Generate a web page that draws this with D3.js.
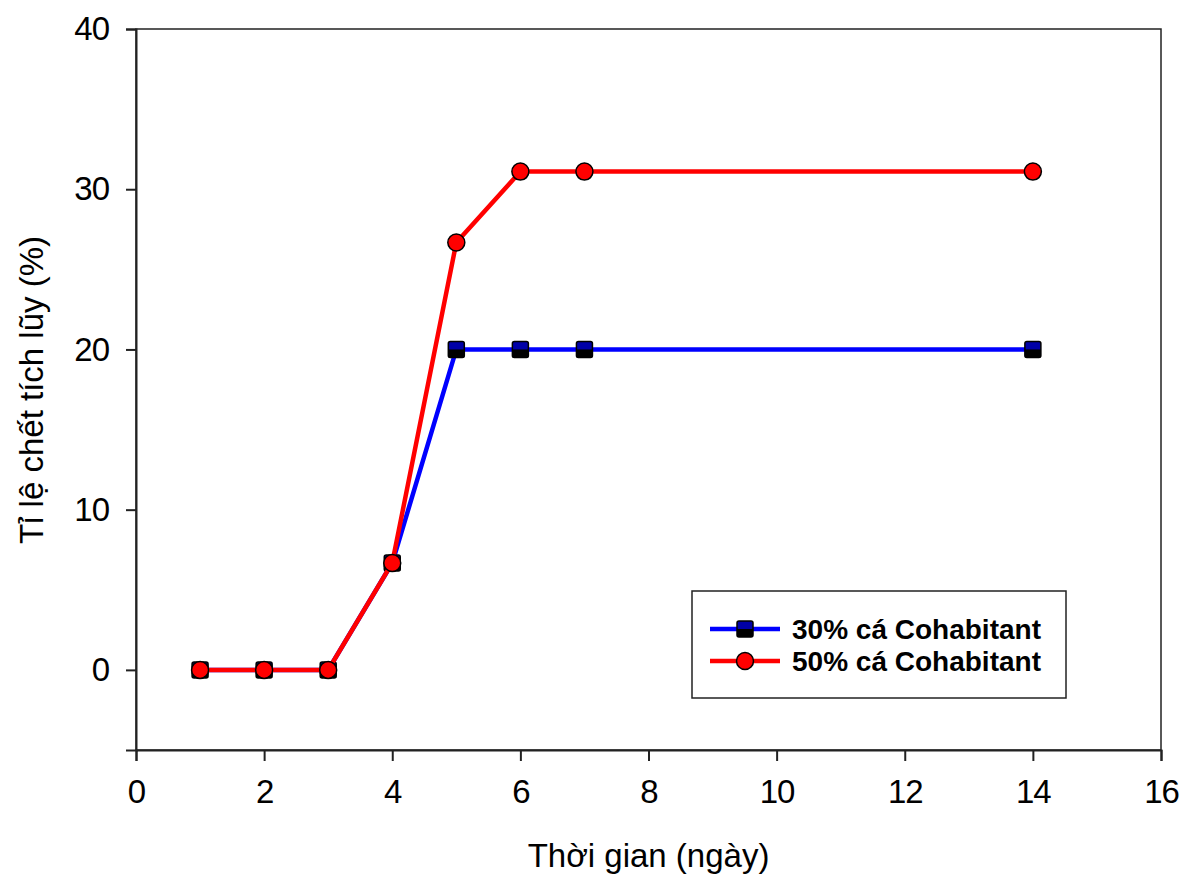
<!DOCTYPE html>
<html>
<head>
<meta charset="utf-8">
<script src="https://cdn.jsdelivr.net/npm/d3@7"></script>
<style>
  body { margin: 0; background: #fff; }
  text { font-family: "Liberation Sans", Arial, sans-serif; }
</style>
</head>
<body>
<svg id="chart" width="1192" height="879"></svg>
<script>
// Days of observation and cumulative mortality (%) per cohabitation group
const days = [1, 2, 3, 4, 5, 6, 7, 14];
const series30 = [0, 0, 0, 6.67, 20, 20, 20, 20];
const series50 = [0, 0, 0, 6.67, 26.67, 31.1, 31.1, 31.1];
const seriesNames = ["30% cá Cohabitant", "50% cá Cohabitant"];
const xTicks = [0, 2, 4, 6, 8, 10, 12, 14, 16];
const yTicks = [0, 10, 20, 30, 40];

const svg = d3.select("#chart");
const m = { left: 136, top: 29, right: 1161, bottom: 750 };

const x = d3.scaleLinear().domain([0, 16]).range([m.left, m.right]);
const y = d3.scaleLinear().domain([-5, 40]).range([m.bottom, m.top]);

// Frame
svg.append("rect")
  .attr("x", m.left).attr("y", m.top)
  .attr("width", m.right - m.left).attr("height", m.bottom - m.top)
  .attr("fill", "none").attr("stroke", "#222").attr("stroke-width", 1.5);

// Axes
const xAxis = svg.append("g")
  .attr("transform", `translate(0,${m.bottom})`)
  .call(d3.axisBottom(x).tickValues(xTicks).tickSize(11).tickPadding(19).tickFormat(d3.format("d")));
const yAxis = svg.append("g")
  .attr("transform", `translate(${m.left},0)`)
  .call(d3.axisLeft(y).tickValues(yTicks).tickSize(10).tickPadding(17).tickFormat(d3.format("d")));

[xAxis, yAxis].forEach(g => {
  g.select(".domain").attr("stroke", "#222").attr("stroke-width", 2);
  g.selectAll(".tick line").attr("stroke", "#222").attr("stroke-width", 2);
  g.selectAll(".tick text").attr("fill", "#000")
    .style("font-size", "33px").style("letter-spacing", "-1px")
    .style("font-family", "'Liberation Sans', Arial, sans-serif");
});

// Axis titles
svg.append("text")
  .attr("x", (m.left + m.right) / 2).attr("y", 867)
  .attr("text-anchor", "middle").style("font-size", "33px").attr("fill", "#000")
  .text("Thời gian (ngày)");
svg.append("text")
  .attr("transform", `translate(43,390) rotate(-90)`)
  .attr("text-anchor", "middle").style("font-size", "33px").attr("fill", "#000")
  .text("Tỉ lệ chết tích lũy (%)");

const line = d3.line().x(d => x(d[0])).y(d => y(d[1]));
const pts30 = days.map((d, i) => [d, series30[i]]);
const pts50 = days.map((d, i) => [d, series50[i]]);

function squareMarker(g, cx, cy, s) {
  g.append("rect").attr("x", cx - s / 2).attr("y", cy - s / 2)
    .attr("width", s).attr("height", s).attr("rx", 2)
    .attr("fill", "#0000a8").attr("stroke", "#000").attr("stroke-width", 1.5);
  g.append("rect").attr("x", cx - s / 2).attr("y", cy)
    .attr("width", s).attr("height", s / 2)
    .attr("fill", "#000");
}
function circleMarker(g, cx, cy, r) {
  g.append("circle").attr("cx", cx).attr("cy", cy).attr("r", r)
    .attr("fill", "#ff0000").attr("stroke", "#000").attr("stroke-width", 1.5);
}

// Series lines and markers
svg.append("path").datum(pts30).attr("d", line)
  .attr("fill", "none").attr("stroke", "#0000ff").attr("stroke-width", 4.5);
const g30 = svg.append("g");
pts30.forEach(p => squareMarker(g30, x(p[0]), y(p[1]), 16));

svg.append("path").datum(pts50).attr("d", line)
  .attr("fill", "none").attr("stroke", "#ff0000").attr("stroke-width", 4.5);
const g50 = svg.append("g");
pts50.forEach(p => circleMarker(g50, x(p[0]), y(p[1]), 8.5));

// Legend
const lg = svg.append("g");
lg.append("rect").attr("x", 692).attr("y", 591).attr("width", 374).attr("height", 107)
  .attr("fill", "#fff").attr("stroke", "#222").attr("stroke-width", 1.5);
const legendRows = [
  { name: seriesNames[0], color: "#0000ff", y: 629, marker: "square" },
  { name: seriesNames[1], color: "#ff0000", y: 661, marker: "circle" }
];
legendRows.forEach(r => {
  lg.append("line").attr("x1", 710).attr("x2", 780).attr("y1", r.y).attr("y2", r.y)
    .attr("stroke", r.color).attr("stroke-width", 4.5);
  if (r.marker === "square") squareMarker(lg, 745, r.y, 16);
  else circleMarker(lg, 745, r.y, 8.5);
  lg.append("text").attr("x", 792).attr("y", r.y + 10)
    .style("font-size", "28px").style("font-weight", "bold").attr("fill", "#000")
    .text(r.name);
});
</script>
</body>
</html>
